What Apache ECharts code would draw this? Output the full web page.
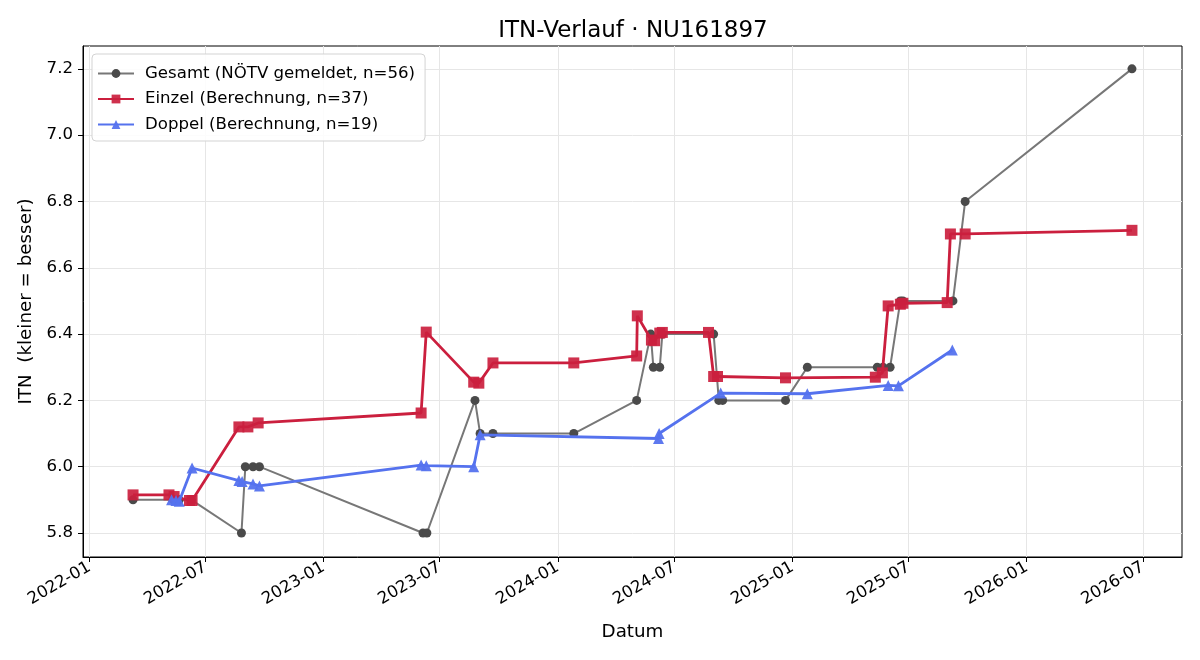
<!DOCTYPE html>
<html>
<head>
<meta charset="utf-8">
<script src="https://cdn.jsdelivr.net/npm/echarts@6/dist/echarts.min.js"></script>
<style>
html, body { margin: 0; background: #fff; }
#chart { width: 1200px; height: 660px; }
</style>
</head>
<body>
<div id="chart"></div>
<script>
// Gesamt (NÖTV gemeldet)
var gesamtDates = ['2022-03-10','2022-05-12','2022-05-21','2022-06-09','2022-08-26','2022-09-01','2022-09-13','2022-09-23',
    '2023-06-05','2023-06-11','2023-08-25','2023-09-02','2023-09-22','2024-01-26','2024-05-03','2024-05-25','2024-05-29',
    '2024-06-08','2024-06-12','2024-08-31','2024-09-08','2024-09-14','2024-12-21','2025-01-24','2025-05-13','2025-05-22',
    '2025-06-02','2025-06-18','2025-06-22','2025-09-08','2025-09-27','2026-06-14'];
var gesamtValues = [5.9, 5.9, 5.9, 5.9, 5.8, 6.0, 6.0, 6.0,
    5.8, 5.8, 6.2, 6.1, 6.1, 6.1, 6.2, 6.4, 6.3,
    6.3, 6.4, 6.4, 6.2, 6.2, 6.2, 6.3, 6.3, 6.3,
    6.3, 6.5, 6.5, 6.5, 6.8, 7.2];

// Einzel (Berechnung)
var einzelDates = ['2022-03-10','2022-05-05','2022-05-13','2022-06-06','2022-06-10','2022-08-22','2022-09-05','2022-09-21',
    '2023-06-02','2023-06-10','2023-08-23','2023-08-31','2023-09-22','2024-01-26','2024-05-03','2024-05-04','2024-05-26',
    '2024-05-31','2024-06-08','2024-06-12','2024-08-23','2024-08-31','2024-09-06','2024-12-21','2025-05-10','2025-05-21',
    '2025-05-30','2025-06-18','2025-06-22','2025-08-30','2025-09-04','2025-09-27','2026-06-14'];
var einzelValues = [5.915, 5.915, 5.91, 5.898, 5.898, 6.12, 6.12, 6.132,
    6.162, 6.406, 6.255, 6.252, 6.313, 6.313, 6.334, 6.455, 6.382,
    6.38, 6.403, 6.405, 6.405, 6.272, 6.272, 6.268, 6.27, 6.283,
    6.485, 6.49, 6.493, 6.495, 6.702, 6.702, 6.713];

// Doppel (Berechnung)
var doppelDates = ['2022-05-09','2022-05-16','2022-05-21','2022-06-10','2022-08-22','2022-08-27','2022-09-13','2022-09-23',
    '2023-06-02','2023-06-10','2023-08-23','2023-09-02','2024-06-06','2024-06-07','2024-09-11','2025-01-24','2025-05-30',
    '2025-06-15','2025-09-07'];
var doppelValues = [5.9, 5.898, 5.896, 5.996, 5.958, 5.955, 5.948, 5.942,
    6.005, 6.003, 6.0, 6.096, 6.085, 6.1, 6.222, 6.22, 6.245,
    6.244, 6.352];

var xTickLabels = ['2022-01','2022-07','2023-01','2023-07','2024-01','2024-07','2025-01','2025-07','2026-01','2026-07'];
var yTickLabels = [5.8, 6.0, 6.2, 6.4, 6.6, 6.8, 7.0, 7.2];

function toTime(s){
    var p = s.split('-');
    return new Date(+p[0], +p[1] - 1, p[2] ? +p[2] : 1).getTime();
}

function pairs(dates, values){
    return dates.map(function(d, i){ return [toTime(d), values[i]]; });
}

var xTicks = xTickLabels.map(toTime);

var chart = echarts.init(document.getElementById('chart'));

var font = 'DejaVu Sans';

var option = {
    animation: false,
    backgroundColor: '#fff',
    textStyle: { fontFamily: font },
    title: {
        text: 'ITN-Verlauf · NU161897',
        left: 628,
        textAlign: 'center',
        top: 15,
        textStyle: { fontFamily: font, fontSize: 23, fontWeight: 'normal', color: '#000' }
    },
    legend: {
        orient: 'vertical',
        left: 92,
        top: 54,
        padding: [11, 10, 8, 5],
        itemGap: 8.5,
        itemWidth: 36,
        itemHeight: 11,
        backgroundColor: 'rgba(255,255,255,0.85)',
        borderColor: '#d3d3d3',
        borderWidth: 1,
        borderRadius: 4,
        textStyle: { fontFamily: font, fontSize: 16.6, color: '#000', padding: [0, 0, 0, 6] },
        data: ['Gesamt (NÖTV gemeldet, n=56)', 'Einzel (Berechnung, n=37)', 'Doppel (Berechnung, n=19)']
    },
    grid: {
        left: 83, right: 18, top: 46, bottom: 103,
        show: true,
        borderColor: '#000',
        borderWidth: 1
    },
    xAxis: {
        type: 'value',
        min: toTime('2021-12-22'),
        max: toTime('2026-08-31'),
        name: 'Datum',
        nameLocation: 'middle',
        nameGap: 66,
        nameTextStyle: { fontFamily: font, fontSize: 18.3, color: '#000' },
        axisLine: { show: true, lineStyle: { color: '#000' } },
        axisTick: { show: true, length: 5, lineStyle: { color: '#000' }, customValues: xTicks },
        axisLabel: {
            customValues: xTicks,
            rotate: 30,
            fontFamily: font,
            fontSize: 16.6,
            color: '#000',
            margin: 9,
            formatter: function(v){
                var d = new Date(v);
                var m = d.getMonth() + 1;
                return d.getFullYear() + '-' + (m < 10 ? '0' + m : m);
            }
        },
        splitLine: { show: true, lineStyle: { color: '#e6e6e6', width: 1 } }
    },
    yAxis: {
        type: 'value',
        min: 5.7276,
        max: 7.269,
        name: 'ITN  (kleiner = besser)',
        nameLocation: 'middle',
        nameGap: 46,
        nameTextStyle: { fontFamily: font, fontSize: 18.3, color: '#000' },
        axisLine: { show: true, lineStyle: { color: '#000' } },
        axisTick: { show: true, length: 5, lineStyle: { color: '#000' }, customValues: yTickLabels },
        axisLabel: {
            customValues: yTickLabels,
            fontFamily: font,
            fontSize: 16.6,
            color: '#000',
            margin: 10,
            formatter: function(v){ return v.toFixed(1); }
        },
        splitLine: { show: true, lineStyle: { color: '#e6e6e6', width: 1 } }
    },
    series: [
        {
            name: 'Gesamt (NÖTV gemeldet, n=56)',
            type: 'line',
            data: pairs(gesamtDates, gesamtValues),
            symbol: 'circle',
            symbolSize: 9,
            showAllSymbol: true,
            lineStyle: { color: '#777777', width: 2 },
            itemStyle: { color: '#4a4a4a', borderWidth: 0 },
            z: 2
        },
        {
            name: 'Einzel (Berechnung, n=37)',
            type: 'line',
            data: pairs(einzelDates, einzelValues),
            symbol: 'rect',
            symbolSize: 11,
            showAllSymbol: true,
            lineStyle: { color: '#cb1f3e', width: 2.8 },
            itemStyle: { color: '#cb1f3e', opacity: 0.92, borderWidth: 0 },
            z: 3
        },
        {
            name: 'Doppel (Berechnung, n=19)',
            type: 'line',
            data: pairs(doppelDates, doppelValues),
            symbol: 'triangle',
            symbolSize: 11,
            showAllSymbol: true,
            lineStyle: { color: '#5572ee', width: 2.8 },
            itemStyle: { color: '#5572ee', opacity: 0.95, borderWidth: 0 },
            z: 4
        }
    ]
};

chart.setOption(option);
</script>
</body>
</html>
